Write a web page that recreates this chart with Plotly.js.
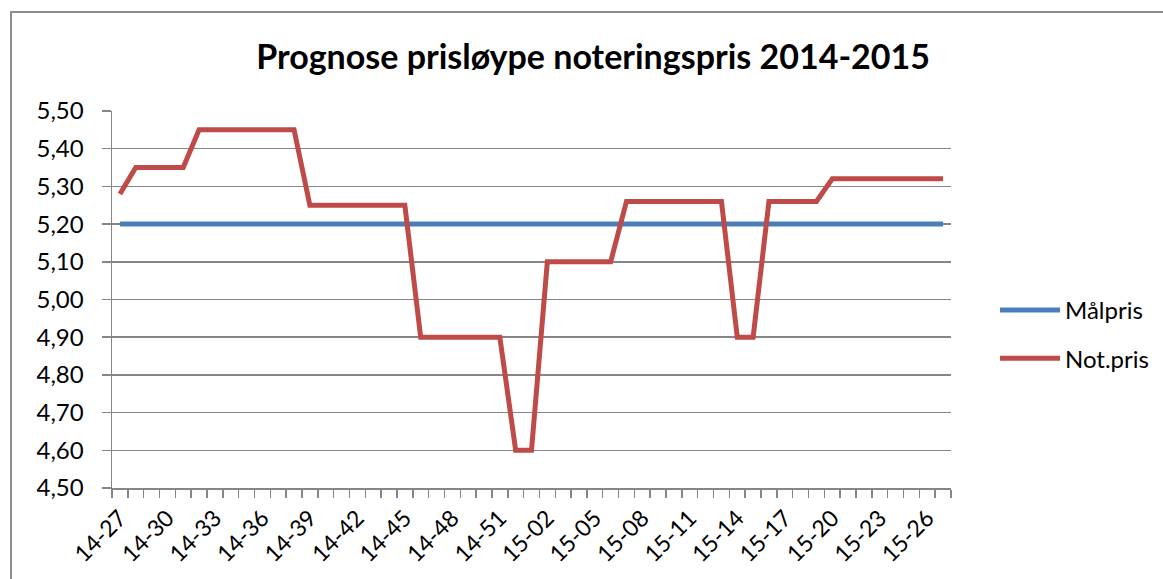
<!DOCTYPE html>
<html>
<head>
<meta charset="utf-8">
<script src="https://cdn.plot.ly/plotly-3.0.1.min.js"></script>
<style>
  html, body { margin: 0; padding: 0; background: #ffffff; }
  #wrap { position: relative; width: 1163px; height: 579px; overflow: hidden; }
  #chart { position: absolute; left: 0; top: 0; width: 1163px; height: 579px; }
  #frame { position: absolute; left: 10px; top: 11px; width: 1200px; height: 700px;
           border: 2px solid #8c8c8c; pointer-events: none; box-sizing: border-box; }
</style>
</head>
<body>
<div id="wrap">
  <div id="chart"></div>
  <div id="frame"></div>
</div>
<script>
// Weeks: 14-27 .. 14-52, 15-01 .. 15-27
const weeks = [
  "14-27","14-28","14-29","14-30","14-31","14-32","14-33","14-34","14-35","14-36",
  "14-37","14-38","14-39","14-40","14-41","14-42","14-43","14-44","14-45","14-46",
  "14-47","14-48","14-49","14-50","14-51","14-52","15-01","15-02","15-03","15-04",
  "15-05","15-06","15-07","15-08","15-09","15-10","15-11","15-12","15-13","15-14",
  "15-15","15-16","15-17","15-18","15-19","15-20","15-21","15-22","15-23","15-24",
  "15-25","15-26","15-27"
];

const malpris = [
  5.20,5.20,5.20,5.20,5.20,5.20,5.20,5.20,5.20,5.20,
  5.20,5.20,5.20,5.20,5.20,5.20,5.20,5.20,5.20,5.20,
  5.20,5.20,5.20,5.20,5.20,5.20,5.20,5.20,5.20,5.20,
  5.20,5.20,5.20,5.20,5.20,5.20,5.20,5.20,5.20,5.20,
  5.20,5.20,5.20,5.20,5.20,5.20,5.20,5.20,5.20,5.20,
  5.20,5.20,5.20
];

const notpris = [
  5.28,5.35,5.35,5.35,5.35,5.45,5.45,5.45,5.45,5.45,
  5.45,5.45,5.25,5.25,5.25,5.25,5.25,5.25,5.25,4.90,
  4.90,4.90,4.90,4.90,4.90,4.60,4.60,5.10,5.10,5.10,
  5.10,5.10,5.26,5.26,5.26,5.26,5.26,5.26,5.26,4.90,
  4.90,5.26,5.26,5.26,5.26,5.32,5.32,5.32,5.32,5.32,
  5.32,5.32,5.32
];

// Tick labels shown on every third week
const tickLabels = weeks.map((w, i) => (i % 3 === 0 ? w : ""));

const FONT = "Lato, 'Open Sans', sans-serif";
const GRID = "#868686";

const traces = [
  {
    x: weeks, y: malpris, name: "Målpris", type: "scatter", mode: "lines",
    line: { color: "#4a7ebb", width: 5 }, legendgroup: "a"
  },
  {
    x: weeks, y: notpris, name: "Not.pris", type: "scatter", mode: "lines",
    line: { color: "#be4b48", width: 5, shape: "linear" }, legendgroup: "b"
  }
];

const layout = {
  width: 1163, height: 579,
  paper_bgcolor: "rgba(0,0,0,0)", plot_bgcolor: "rgba(0,0,0,0)",
  separators: ",.",
  font: { family: FONT, size: 23, color: "#000000" },
  margin: { l: 112, r: 212, t: 111, b: 91, pad: 0 },
  title: {
    text: "<b>Prognose prisløype noteringspris 2014-2015</b>",
    font: { family: FONT, size: 34, color: "#000000" },
    xref: "container", yref: "container",
    x: 0.51, xanchor: "center", y: 0.902, yanchor: "middle"
  },
  xaxis: {
    type: "category",
    range: [-0.5, weeks.length - 0.5],
    tickmode: "array", tickvals: weeks, ticktext: tickLabels,
    tickson: "boundaries",
    ticks: "outside", ticklen: 8, tickwidth: 1.5, tickcolor: GRID,
    tickangle: -45,
    ticklabelstandoff: 6,
    showgrid: false, zeroline: false,
    showline: true, linecolor: GRID, linewidth: 1.5,
    tickfont: { family: FONT, size: 23, color: "#000000" },
    fixedrange: true
  },
  yaxis: {
    range: [4.5, 5.5], dtick: 0.1, tick0: 4.5, tickformat: ".2f",
    ticks: "outside", ticklen: 9, tickwidth: 1.5, tickcolor: GRID,
    ticklabelstandoff: 13,
    showgrid: true, gridcolor: GRID, gridwidth: 1.5,
    zeroline: false, showline: true, linecolor: GRID, linewidth: 1.5,
    tickfont: { family: FONT, size: 24, color: "#000000" },
    fixedrange: true
  },
  showlegend: true,
  legend: {
    xref: "container", yref: "container",
    x: 995 / 1163, xanchor: "left",
    y: 1 - 288 / 579, yanchor: "top",
    traceorder: "grouped", tracegroupgap: 14,
    itemwidth: 60,
    font: { family: FONT, size: 24, color: "#000000" },
    bgcolor: "rgba(0,0,0,0)", borderwidth: 0
  }
};

Plotly.newPlot("chart", traces, layout, { displayModeBar: false, staticPlot: true });
</script>
</body>
</html>
